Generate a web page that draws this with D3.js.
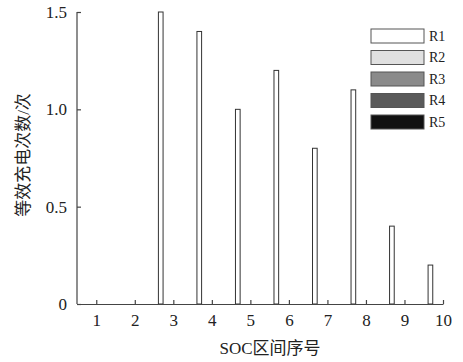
<!DOCTYPE html>
<html><head><meta charset="utf-8">
<script src="https://cdn.jsdelivr.net/npm/d3@7"></script>
<style>body{margin:0;background:#fff}svg{display:block}</style>
</head><body>
<script>
const categories = [1,2,3,4,5,6,7,8,9,10];
const seriesNames = ["R1","R2","R3","R4","R5"];
const R1 = [0,0,1.5,1.4,1.0,1.2,0.8,1.1,0.4,0.2];
const R2 = [0,0,0,0,0,0,0,0,0,0];
const R3 = [0,0,0,0,0,0,0,0,0,0];
const R4 = [0,0,0,0,0,0,0,0,0,0];
const R5 = [0,0,0,0,0,0,0,0,0,0];
const yTicks = [0,0.5,1.0,1.5];
const yTickLabels = ["0","0.5","1.0","1.5"];
const colors = ["#ffffff","#e0e0e0","#8a8a8a","#5a5a5a","#111111"];
const series = [R1,R2,R3,R4,R5];

const W=463,H=362;
const svg=d3.select("body").append("svg").attr("width",W).attr("height",H);
const font="'Liberation Serif','Times New Roman',serif";
const cjk="'Liberation Serif','Noto Sans CJK SC',serif";
const axisColor="#444";

const x=d3.scaleLinear().domain([0.5,10]).range([77,443]);
const y=d3.scaleLinear().domain([0,1.5]).range([304,12]);
const step=x(2)-x(1);
const groupW=step*0.8;
const xb=d3.scaleBand().domain(seriesNames).range([-groupW/2,groupW/2]).paddingInner(0);

// bars
series.forEach((s,si)=>{
  svg.append("g").selectAll("rect").data(categories).join("rect")
    .attr("x",(c)=>x(c)+xb(seriesNames[si])+0.5)
    .attr("width",xb.bandwidth()-1.5)
    .attr("y",(c,i)=>y(s[i]))
    .attr("height",(c,i)=>y(0)-y(s[i]))
    .attr("fill",colors[si])
    .attr("stroke", s.some(v=>v>0)?"#333":"none")
    .attr("stroke-width",1);
});

// axes
const yAxis=d3.axisLeft(y).tickValues(yTicks).tickFormat((d,i)=>yTickLabels[i]).tickSizeInner(-4).tickSizeOuter(0).tickPadding(10);
const gy=svg.append("g").attr("transform","translate(77,0)").call(yAxis);
const xAxis=d3.axisBottom(x).tickValues(categories).tickSizeInner(-4).tickSizeOuter(0).tickPadding(10);
const gx=svg.append("g").attr("transform","translate(0,304)").call(xAxis);
[gx,gy].forEach(g=>{
  g.selectAll(".domain").attr("stroke",axisColor).attr("stroke-width",1.2);
  g.selectAll(".tick line").attr("stroke",axisColor).attr("stroke-width",1.2);
  g.selectAll("text").attr("font-family",font).attr("font-size",17).attr("fill","#222");
});
gx.selectAll("text").attr("dy","0.71em");
gy.select(".domain").attr("d",`M0,${y(1.5)}V${y(0)}`);

// labels
svg.append("text").attr("x",270).attr("y",354).attr("text-anchor","middle")
  .attr("font-family",cjk).attr("font-size",17).attr("fill","#222").text("SOC区间序号");
svg.append("text").attr("transform",`translate(29,${155}) rotate(-90)`).attr("text-anchor","middle")
  .attr("font-family",cjk).attr("font-size",17).attr("fill","#222").text("等效充电次数/次");

// legend
const lg=svg.append("g");
seriesNames.forEach((n,i)=>{
  const yy=29+i*21.5;
  lg.append("rect").attr("x",371).attr("y",yy).attr("width",53).attr("height",14)
    .attr("fill",colors[i]).attr("stroke","#555").attr("stroke-width",1);
  lg.append("text").attr("x",429).attr("y",yy+7).attr("dy","0.35em")
    .attr("font-family",font).attr("font-size",14).attr("fill","#222").text(n);
});
</script>
</body></html>
